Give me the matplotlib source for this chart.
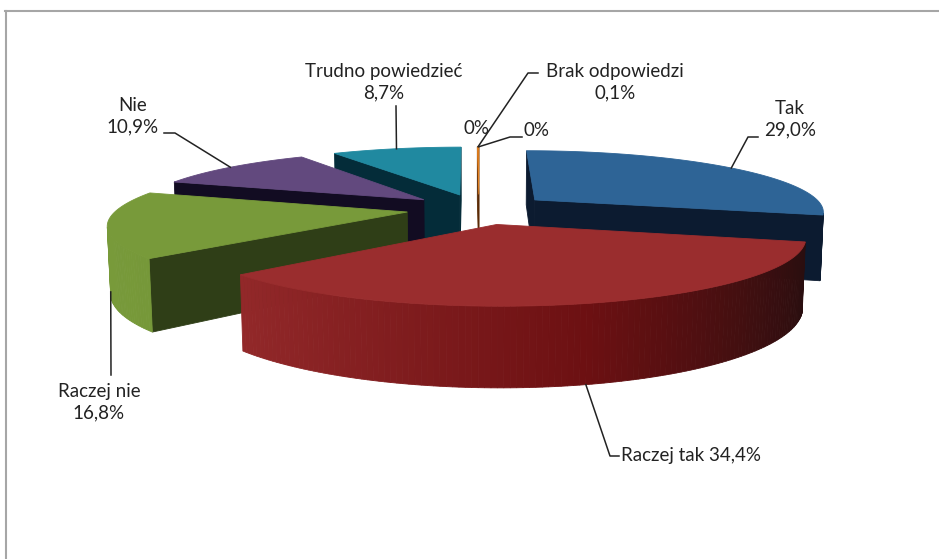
import numpy as np
import matplotlib.pyplot as plt
from matplotlib.patches import Polygon

plt.rcParams['font.family'] = ['Lato', 'DejaVu Sans']

# dane
categories = ['Tak', 'Raczej tak', 'Raczej nie', 'Nie', 'Trudno powiedzieć', '', 'Brak odpowiedzi', '']
values = [29.0, 34.4, 16.8, 10.9, 8.7, 0.0, 0.1, 0.0]

# kolory: wierzch, sciana boczna (srodek), ciemna strona
top_colors = ['#2E6496', '#9A2D2E', '#789A3A', '#62497E', '#2089A0', '#E3801E', '#E3801E', '#E3801E']
wall_colors = ['#1E4470', '#6C1012', '#6C8D33', '#3E2C55', '#15586A', '#9A5010', '#9A5010', '#9A5010']
dark_colors = ['#0C1B30', '#2A0E0F', '#2F3E17', '#120C22', '#042C39', '#5A2A05', '#5A2A05', '#5A2A05']

# etykiety: separator, polozenie tekstu, linie odniesienia
label_sep = ['\n', ' ', '\n', '\n', '\n', '', '\n', '']
label_pos = [(790, 119, 'center'), (621, 456, 'left'), (99, 402, 'center'), (133, 116, 'center'),
             (384, 82, 'center'), (477, 128, 'center'), (615, 82, 'center'), (537, 131, 'center')]
leader_pts = [[(748, 137), (758, 137)], [(610, 456), (619, 456)], [(111, 375)],
              [(175, 133), (164, 133)], [(396, 106)], None, [(528, 73), (538, 73)],
              [(510, 137), (522, 137)]]

# widok 3D
cx, cy, S = 479, 209, 290
th = np.arcsin(0.21)
D = 5.5
thick = 0.23
explode = 0.25
cam = np.array([0.0, -D*np.cos(th), D*np.sin(th)])


def proj(X, Y, Z):
    v = Y*np.sin(th) + Z*np.cos(th)
    w = Y*np.cos(th) - Z*np.sin(th)
    f = D/(D + w)
    return cx + S*X*f, cy - S*v*f


def wall_color(i, ang):
    c = np.cos(np.radians(ang))
    p = np.interp(c, [-0.94, 0.24, 0.966], [0, 1, 2])
    stops = [np.array(plt.matplotlib.colors.to_rgb(k))
             for k in (top_colors[i], wall_colors[i], dark_colors[i])]
    if p <= 1:
        return stops[0]*(1-p) + stops[1]*p
    return stops[1]*(2-p) + stops[2]*(p-1)


def fmt(v):
    return '0%' if v == 0 else f'{v:.1f}%'.replace('.', ',')


fig = plt.figure(figsize=(9.39, 5.59), dpi=100)
ax = fig.add_axes([0, 0, 1, 1])
ax.set_xlim(0, 939)
ax.set_ylim(559, 0)
ax.axis('off')

# ramka wykresu
ax.plot([5.5, 5.5], [11, 559], color='#A6A6A6', lw=1.5)
ax.plot([5, 939], [11, 11], color='#A6A6A6', lw=1.5)

spans = np.array(values)/sum(values)*360
a2s = 90 - np.concatenate([[0], np.cumsum(spans)[:-1]])
a1s = a2s - spans
mids = (a1s + a2s)/2
apex = [np.array([explode*np.cos(np.radians(m)), explode*np.sin(np.radians(m)), 0.0]) for m in mids]


def rim(i, ang, z):
    r = np.radians(ang)
    return apex[i] + np.array([np.cos(r), np.sin(r), z])


def poly(pts, col):
    xy = [proj(*p) for p in pts]
    ax.add_patch(Polygon(xy, closed=True, facecolor=col, edgecolor=col, lw=0.6))


depth = [(apex[i][1] + 0.5*np.sin(np.radians(mids[i])))*np.cos(th) for i in range(len(values))]
order = np.argsort(depth)[::-1]

for i in order:
    if spans[i] <= 0:
        continue
    a1, a2 = a1s[i], a2s[i]
    top0 = apex[i]
    bot0 = apex[i] + np.array([0, 0, -thick])
    # sciany promieniowe
    for a, sgn in ((a2, 1), (a1, -1)):
        r = np.radians(a)
        n = sgn*np.array([-np.sin(r), np.cos(r), 0])
        pm = (top0 + rim(i, a, -thick/2))/2
        if np.dot(cam - pm, n) > 0:
            poly([top0, rim(i, a, 0), rim(i, a, -thick), bot0], dark_colors[i])
    # sciana zewnetrzna
    angs = np.linspace(a1, a2, max(2, int(spans[i]) + 2))
    for k in range(len(angs) - 1):
        m = (angs[k] + angs[k+1])/2
        r = np.radians(m)
        n = np.array([np.cos(r), np.sin(r), 0])
        if np.dot(cam - rim(i, m, -thick/2), n) > 0:
            poly([rim(i, angs[k], 0), rim(i, angs[k+1], 0),
                  rim(i, angs[k+1], -thick), rim(i, angs[k], -thick)], wall_color(i, m))
    # wierzch
    arc = [rim(i, a, 0) for a in np.linspace(a1, a2, max(2, int(spans[i]*2) + 2))]
    poly([top0] + arc, top_colors[i])

# etykiety danych
for i in range(len(values)):
    name = categories[i]
    txt = fmt(values[i]) if name == '' else name + label_sep[i] + fmt(values[i])
    x, y, ha = label_pos[i]
    ax.text(x, y, txt, ha=ha, va='center', multialignment='center',
            fontsize=13.5, color='#222222', linespacing=1.3)
    if leader_pts[i] is None:
        continue
    m = mids[i]
    if np.sin(np.radians(m)) < 0:
        anchor = proj(*rim(i, m, -thick))
    else:
        anchor = proj(*rim(i, m, 0))
    pts = [anchor] + leader_pts[i]
    ax.plot([p[0] for p in pts], [p[1] for p in pts], color='#222222', lw=1.1)

fig.savefig('out.png', dpi=100)
